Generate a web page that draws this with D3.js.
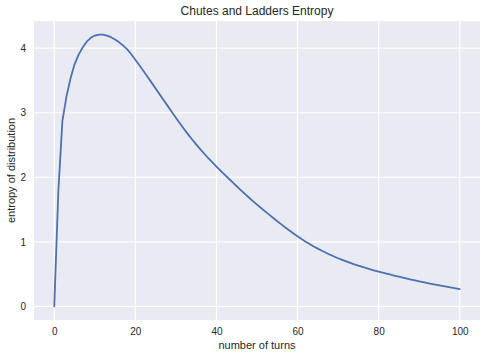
<!DOCTYPE html>
<html>
<head>
<meta charset="utf-8">
<script src="https://cdn.jsdelivr.net/npm/d3@7"></script>
<style>
  html, body { margin: 0; padding: 0; background: #ffffff; }
  svg { display: block; font-family: Arial, "Liberation Sans", sans-serif; }
</style>
</head>
<body>
<svg id="chart" width="487" height="357"></svg>
<script>
// ---- data ----
const turns = d3.range(0, 101);
const entropy = [
  0, 1.78, 2.87, 3.25, 3.53, 3.75, 3.90, 4.01, 4.10, 4.16,
  4.195, 4.21, 4.208, 4.195, 4.17, 4.135, 4.09, 4.04, 3.98, 3.905,
  3.82, 3.735, 3.647, 3.557, 3.466, 3.375, 3.284, 3.193, 3.102, 3.012,
  2.922, 2.833, 2.747, 2.664, 2.585, 2.509, 2.435, 2.364, 2.295, 2.229,
  2.165, 2.102, 2.041, 1.981, 1.921, 1.861, 1.802, 1.744, 1.687, 1.631,
  1.577, 1.524, 1.472, 1.421, 1.370, 1.320, 1.271, 1.222, 1.175, 1.129,
  1.085, 1.043, 1.003, 0.965, 0.929, 0.895, 0.862, 0.831, 0.801, 0.773,
  0.746, 0.721, 0.697, 0.674, 0.652, 0.631, 0.611, 0.592, 0.574, 0.556,
  0.539, 0.5225, 0.5063, 0.4904, 0.4748, 0.4595, 0.4446, 0.430, 0.4157, 0.4017,
  0.388, 0.3746, 0.3615, 0.3488, 0.3364, 0.3243, 0.3125, 0.301, 0.2898, 0.279,
  0.2685
];
const xTicks = [0, 20, 40, 60, 80, 100];
const yTicks = [0, 1, 2, 3, 4];
const titleText = "Chutes and Ladders Entropy";
const xLabel = "number of turns";
const yLabel = "entropy of distribution";

// ---- layout ----
const plot = { left: 34, top: 21, right: 480, bottom: 320 };

const svg = d3.select("#chart");

const xMin = d3.min(turns), xMax = d3.max(turns);
const yMin = d3.min(entropy), yMax = d3.max(entropy);
const xPad = (xMax - xMin) * 0.05, yPad = (yMax - yMin) * 0.05;

const x = d3.scaleLinear().domain([xMin - xPad, xMax + xPad]).range([plot.left, plot.right]);
const y = d3.scaleLinear().domain([yMin - yPad, yMax + yPad]).range([plot.bottom, plot.top]);

// background
svg.append("rect")
  .attr("x", plot.left).attr("y", plot.top)
  .attr("width", plot.right - plot.left).attr("height", plot.bottom - plot.top)
  .attr("fill", "#EAEAF2");

// grid
const grid = svg.append("g").attr("stroke", "#ffffff").attr("stroke-width", 1.1);
grid.selectAll("line.gx").data(xTicks).enter().append("line")
  .attr("x1", d => x(d)).attr("x2", d => x(d))
  .attr("y1", plot.top).attr("y2", plot.bottom);
grid.selectAll("line.gy").data(yTicks).enter().append("line")
  .attr("y1", d => y(d)).attr("y2", d => y(d))
  .attr("x1", plot.left).attr("x2", plot.right);

// axes (labels only, seaborn darkgrid style)
const xAxis = d3.axisBottom(x).tickValues(xTicks).tickSize(0).tickPadding(8).tickFormat(d3.format("d"));
const yAxis = d3.axisLeft(y).tickValues(yTicks).tickSize(0).tickPadding(8).tickFormat(d3.format("d"));

const gx = svg.append("g").attr("transform", `translate(0,${plot.bottom})`).call(xAxis);
const gy = svg.append("g").attr("transform", `translate(${plot.left},0)`).call(yAxis);
[gx, gy].forEach(g => {
  g.select(".domain").remove();
  g.selectAll("text").attr("font-size", 10).attr("fill", "#262626")
    .attr("font-family", "Arial, 'Liberation Sans', sans-serif");
});

// line
const line = d3.line().x((d, i) => x(turns[i])).y(d => y(d));
svg.append("path")
  .datum(entropy)
  .attr("d", line)
  .attr("fill", "none")
  .attr("stroke", "#4C72B0")
  .attr("stroke-width", 1.8)
  .attr("stroke-linejoin", "round")
  .attr("stroke-linecap", "round");

// title & labels
svg.append("text")
  .attr("x", (plot.left + plot.right) / 2).attr("y", 15)
  .attr("text-anchor", "middle").attr("font-size", 12).attr("fill", "#262626")
  .text(titleText);
svg.append("text")
  .attr("x", (plot.left + plot.right) / 2).attr("y", 349)
  .attr("text-anchor", "middle").attr("font-size", 11).attr("fill", "#262626")
  .text(xLabel);
svg.append("text")
  .attr("transform", `translate(15,${(plot.top + plot.bottom) / 2}) rotate(-90)`)
  .attr("text-anchor", "middle").attr("font-size", 11).attr("fill", "#262626")
  .text(yLabel);
</script>
</body>
</html>
